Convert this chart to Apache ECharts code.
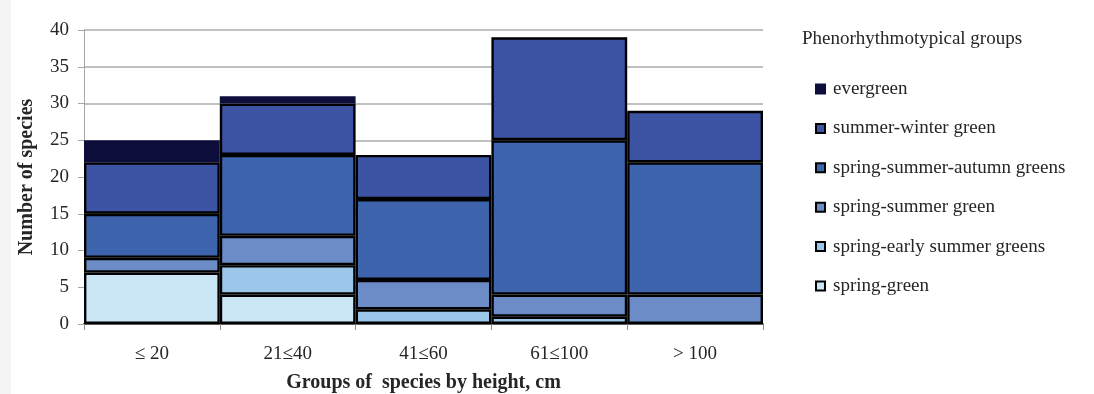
<!DOCTYPE html>
<html>
<head>
<meta charset="utf-8">
<script src="https://cdn.jsdelivr.net/npm/echarts@6/dist/echarts.min.js"></script>
<style>
  html, body { margin: 0; padding: 0; background: #ffffff; }
  #edge { position: absolute; left: 0; top: 0; width: 11px; height: 394px; background: #f4f4f4; }
  #chart { position: absolute; left: 0; top: 0; width: 1094px; height: 394px; }
</style>
</head>
<body>
<div id="edge"></div>
<div id="chart"></div>
<script>
// Height classes (cm)
const categories = ['\u2264 20', '21\u226440', '41\u226460', '61\u2264100', '> 100'];

// Number of species per phenorhythmotype, bottom of stack first
const springGreen        = [7, 4, 0, 0, 0];
const springEarlySummer  = [0, 4, 2, 1, 0];
const springSummer       = [2, 4, 4, 3, 4];
const springSummerAutumn = [6, 11, 11, 21, 18];
const summerWinter       = [7, 7, 6, 14, 7];
const evergreen          = [3, 1, 0, 0, 0];

const yTicks = { min: 0, max: 40, interval: 5 };

const FONT = '"Liberation Serif", "Times New Roman", serif';
const TEXT = '#262626';

const groups = [
  { name: 'spring-green',                 data: springGreen,        color: '#cbe7f5', border: '#000000' },
  { name: 'spring-early summer greens',   data: springEarlySummer,  color: '#9cc6ea', border: '#000000' },
  { name: 'spring-summer green',          data: springSummer,       color: '#6b8cc6', border: '#000000' },
  { name: 'spring-summer-autumn greens',  data: springSummerAutumn, color: '#3e64ad', border: '#000000' },
  { name: 'summer-winter green',          data: summerWinter,       color: '#3d53a4', border: '#000000' },
  { name: 'evergreen',                    data: evergreen,          color: '#0e0e3d', border: '#0e0e3d' }
];

const series = groups.map(g => ({
  name: g.name,
  type: 'bar',
  stack: 'total',
  barCategoryGap: '0%',
  data: g.data.map(v => (v === 0 ? '-' : v)),
  itemStyle: { color: g.color, borderColor: g.border, borderWidth: 2.4 },
  emphasis: { disabled: true }
}));

const chart = echarts.init(document.getElementById('chart'), null, { renderer: 'canvas' });
chart.setOption({
  animation: false,
  backgroundColor: 'transparent',
  textStyle: { fontFamily: FONT },
  title: {
    text: 'Phenorhythmotypical groups',
    left: 797,
    top: 25,
    textStyle: { fontFamily: FONT, fontSize: 19, fontWeight: 'normal', color: TEXT }
  },
  legend: {
    orient: 'vertical',
    left: 815,
    top: 79.5,
    padding: 0,
    itemWidth: 9,
    itemHeight: 9,
    itemGap: 20.4,
    icon: 'rect',
    data: groups.map(g => g.name).reverse(),
    textStyle: { fontFamily: FONT, fontSize: 19, color: TEXT, padding: [0, 0, 0, 3] }
  },
  grid: { left: 84, right: 331, top: 30, bottom: 70, containLabel: false, outerBoundsMode: 'none' },
  xAxis: {
    type: 'category',
    data: categories,
    name: 'Groups of  species by height, cm',
    nameLocation: 'middle',
    nameGap: 49,
    nameTextStyle: { fontFamily: FONT, fontSize: 20, fontWeight: 'bold', color: TEXT },
    axisLine: { lineStyle: { color: '#595959', width: 2 } },
    axisTick: { show: true, alignWithLabel: false, length: 6, lineStyle: { color: '#8c8c8c', width: 1 } },
    axisLabel: { fontFamily: FONT, fontSize: 19, color: TEXT, margin: 21 },
    splitLine: { show: false }
  },
  yAxis: {
    type: 'value',
    min: yTicks.min,
    max: yTicks.max,
    interval: yTicks.interval,
    name: 'Number of species',
    nameLocation: 'middle',
    nameGap: 47,
    nameRotate: 90,
    nameTextStyle: { fontFamily: FONT, fontSize: 20, fontWeight: 'bold', color: TEXT },
    axisLine: { show: true, lineStyle: { color: '#a6a6a6', width: 1 } },
    axisTick: { show: true, length: 6, lineStyle: { color: '#a6a6a6' } },
    axisLabel: { fontFamily: FONT, fontSize: 19, color: TEXT, margin: 15 },
    splitLine: { show: true, lineStyle: { color: '#ababab', width: 1.5 } }
  },
  series: series
});
</script>
</body>
</html>
